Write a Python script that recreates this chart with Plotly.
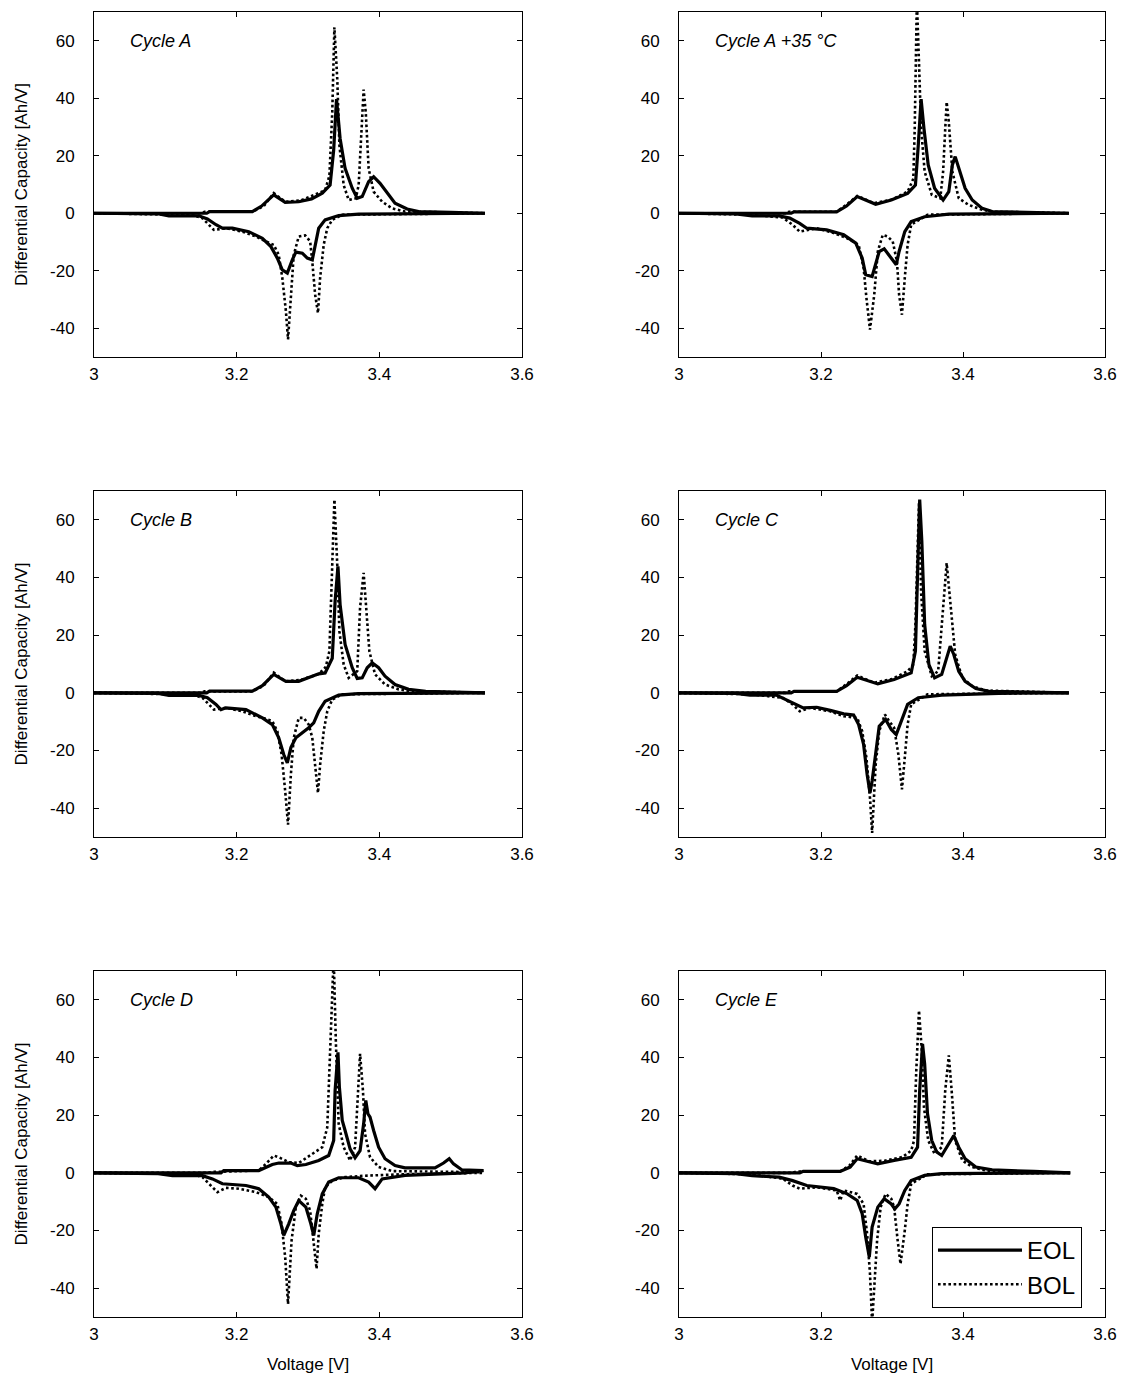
import plotly.graph_objects as go

# ---------------- data (Voltage [V], dQ/dV [Ah/V]) ----------------
PANEL_LABELS = ["Cycle A", "Cycle A +35 °C", "Cycle B", "Cycle C", "Cycle D", "Cycle E"]
SERIES_NAMES = ["EOL", "BOL"]
X_TICKS = [3, 3.2, 3.4, 3.6]
X_TICK_TEXT = ["3", "3.2", "3.4", "3.6"]
Y_TICKS = [-40, -20, 0, 20, 40, 60]
Y_TICK_TEXT = ["-40", "-20", "0", "20", "40", "60"]

# Cycle A
A_EOL_CHG_V = [3.00, 3.10, 3.158, 3.162, 3.222, 3.235, 3.252, 3.268, 3.287, 3.305, 3.320, 3.331, 3.336, 3.340, 3.345, 3.352, 3.362, 3.369, 3.376, 3.385, 3.392, 3.401, 3.411, 3.422, 3.439, 3.455, 3.50, 3.548]
A_EOL_CHG = [0, 0, 0, 0.6, 0.6, 2.5, 6.4, 3.8, 4.0, 5.0, 7.0, 9.8, 22, 39.7, 26, 15.6, 8.7, 5.2, 5.8, 11, 12.7, 10.4, 6.9, 3.5, 1.5, 0.6, 0.3, 0]
A_EOL_DIS_V = [3.548, 3.45, 3.371, 3.343, 3.324, 3.315, 3.310, 3.306, 3.299, 3.292, 3.283, 3.278, 3.271, 3.264, 3.257, 3.248, 3.236, 3.217, 3.194, 3.180, 3.171, 3.159, 3.147, 3.105, 3.091, 3.00]
A_EOL_DIS = [0, -0.2, -0.3, -0.8, -2.3, -5.2, -11, -16.2, -15.6, -13.9, -13.5, -16.2, -20.8, -19.7, -15.6, -11.6, -8.7, -6.4, -5.2, -5.2, -4.0, -2.0, -0.9, -0.9, -0.2, 0]
A_BOL_CHG_V = [3.00, 3.10, 3.150, 3.155, 3.222, 3.238, 3.252, 3.268, 3.290, 3.310, 3.324, 3.330, 3.334, 3.337, 3.341, 3.344, 3.350, 3.357, 3.367, 3.371, 3.375, 3.378, 3.381, 3.385, 3.392, 3.404, 3.418, 3.436, 3.50, 3.548]
A_BOL_CHG = [0, 0, 0, 0.5, 0.5, 2.5, 7.0, 4.0, 4.5, 6.5, 8, 13, 35, 64.7, 46.8, 23.7, 9.8, 4.6, 5.2, 9.8, 29.5, 43, 35, 15.6, 7.5, 4.0, 1.7, 0.6, 0.3, 0]
A_BOL_DIS_V = [3.548, 3.40, 3.348, 3.334, 3.327, 3.322, 3.317, 3.314, 3.310, 3.306, 3.303, 3.296, 3.287, 3.280, 3.276, 3.272, 3.269, 3.264, 3.259, 3.252, 3.241, 3.227, 3.208, 3.185, 3.168, 3.161, 3.152, 3.138, 3.00]
A_BOL_DIS = [0, -0.2, -0.5, -2.3, -5.2, -11, -22.5, -34.7, -28.3, -16.8, -9.8, -7.7, -8.1, -14.5, -28.3, -43.9, -34, -22.5, -14.5, -11, -9.8, -8.1, -6.4, -5.2, -5.8, -4.0, -1.7, -0.6, 0]

# Cycle A +35 °C
A35_EOL_CHG_V = [3.00, 3.10, 3.158, 3.162, 3.222, 3.236, 3.251, 3.277, 3.299, 3.322, 3.333, 3.337, 3.341, 3.345, 3.351, 3.360, 3.372, 3.380, 3.385, 3.389, 3.394, 3.403, 3.413, 3.427, 3.441, 3.50, 3.549]
A35_EOL_CHG = [0, 0, 0, 0.5, 0.5, 2.5, 5.8, 3.1, 4.6, 6.9, 9.8, 23.7, 39.7, 29.5, 16.8, 8.7, 4.6, 7.5, 16.8, 19.7, 15.6, 8.7, 4.6, 1.7, 0.6, 0.3, 0]
A35_EOL_DIS_V = [3.549, 3.45, 3.380, 3.346, 3.327, 3.318, 3.310, 3.306, 3.299, 3.289, 3.282, 3.277, 3.272, 3.263, 3.258, 3.249, 3.232, 3.208, 3.180, 3.170, 3.156, 3.141, 3.103, 3.080, 3.00]
A35_EOL_DIS = [0, -0.2, -0.3, -1.2, -2.9, -6.4, -13.3, -17.9, -15.6, -12.4, -13.3, -17.9, -22, -21.4, -15.6, -10.4, -7.5, -5.8, -5.2, -3.5, -1.7, -0.9, -0.9, -0.2, 0]
A35_BOL_CHG_V = [3.00, 3.10, 3.150, 3.155, 3.222, 3.236, 3.251, 3.275, 3.300, 3.322, 3.330, 3.332, 3.335, 3.338, 3.341, 3.346, 3.356, 3.368, 3.372, 3.375, 3.377, 3.380, 3.385, 3.394, 3.408, 3.427, 3.445, 3.50, 3.549]
A35_BOL_CHG = [0, 0, 0, 0.5, 0.5, 3.0, 6.0, 3.5, 4.8, 7.5, 12, 29.5, 74, 52.6, 29.5, 14.5, 6.4, 5.2, 14.5, 29.5, 38.7, 31.8, 14.5, 5.2, 2.9, 1.2, 0.5, 0.3, 0]
A35_BOL_DIS_V = [3.549, 3.40, 3.350, 3.327, 3.322, 3.318, 3.314, 3.310, 3.307, 3.301, 3.294, 3.287, 3.280, 3.275, 3.269, 3.264, 3.260, 3.253, 3.237, 3.218, 3.194, 3.170, 3.160, 3.146, 3.100, 3.00]
A35_BOL_DIS = [0, -0.2, -0.5, -4.0, -11, -22.5, -35.3, -28.3, -16.8, -9.8, -8.1, -7.5, -13.3, -28.3, -40.5, -29.5, -19, -11, -8.7, -6.9, -5.2, -6.4, -4.0, -1.5, -0.5, 0]

# Cycle B
B_EOL_CHG_V = [3.00, 3.10, 3.158, 3.162, 3.222, 3.236, 3.252, 3.269, 3.287, 3.315, 3.324, 3.334, 3.338, 3.342, 3.345, 3.352, 3.362, 3.369, 3.376, 3.383, 3.390, 3.399, 3.408, 3.422, 3.441, 3.465, 3.50, 3.548]
B_EOL_CHG = [0, 0, 0, 0.6, 0.6, 2.5, 6.4, 4.0, 4.0, 6.6, 6.9, 12, 31.8, 43.9, 30.6, 16.8, 8.7, 5.0, 5.2, 8.7, 10.4, 8.7, 5.8, 2.9, 1.2, 0.5, 0.3, 0]
B_EOL_DIS_V = [3.548, 3.45, 3.370, 3.343, 3.324, 3.315, 3.308, 3.301, 3.292, 3.283, 3.276, 3.271, 3.266, 3.259, 3.250, 3.236, 3.213, 3.185, 3.178, 3.171, 3.159, 3.147, 3.105, 3.090, 3.00]
B_EOL_DIS = [0, -0.2, -0.3, -0.8, -2.9, -6.4, -10.4, -12.1, -13.9, -15.6, -19, -24.3, -21.4, -15.6, -11, -8.7, -5.8, -5.2, -5.8, -4.0, -1.7, -0.9, -0.9, -0.2, 0]
B_BOL_CHG_V = [3.00, 3.10, 3.150, 3.155, 3.222, 3.238, 3.252, 3.268, 3.290, 3.315, 3.325, 3.330, 3.334, 3.337, 3.341, 3.344, 3.350, 3.357, 3.369, 3.373, 3.378, 3.381, 3.386, 3.394, 3.408, 3.427, 3.445, 3.50, 3.548]
B_BOL_CHG = [0, 0, 0, 0.5, 0.5, 2.5, 7.0, 4.0, 4.5, 6.5, 9, 14.5, 41, 67, 44.5, 21.4, 9.8, 5.2, 7.5, 29.5, 41.6, 31.8, 14.5, 6.4, 2.9, 1.2, 0.5, 0.3, 0]
B_BOL_DIS_V = [3.548, 3.40, 3.348, 3.334, 3.327, 3.322, 3.317, 3.314, 3.310, 3.306, 3.301, 3.294, 3.287, 3.280, 3.276, 3.272, 3.268, 3.263, 3.257, 3.250, 3.241, 3.227, 3.208, 3.185, 3.168, 3.161, 3.152, 3.138, 3.00]
B_BOL_DIS = [0, -0.2, -0.5, -2.3, -6.4, -13.3, -24.9, -34.7, -26, -15.6, -11, -8.7, -8.7, -15.6, -28.3, -45.7, -34, -21.4, -13.3, -9.8, -9.0, -8.1, -6.4, -5.2, -5.8, -4.0, -1.7, -0.6, 0]

# Cycle C
C_EOL_CHG_V = [3.00, 3.10, 3.158, 3.162, 3.222, 3.236, 3.251, 3.280, 3.303, 3.327, 3.333, 3.336, 3.339, 3.342, 3.346, 3.352, 3.360, 3.370, 3.377, 3.382, 3.387, 3.394, 3.403, 3.418, 3.437, 3.50, 3.549]
C_EOL_CHG = [0, 0, 0, 0.5, 0.5, 2.5, 5.4, 3.1, 4.6, 6.9, 14.5, 41, 67, 52.6, 23.7, 9.8, 5.2, 6.4, 12.1, 16.2, 13.3, 7.5, 4.0, 1.5, 0.5, 0.3, 0]
C_EOL_DIS_V = [3.549, 3.45, 3.370, 3.337, 3.322, 3.315, 3.306, 3.299, 3.291, 3.282, 3.277, 3.272, 3.269, 3.265, 3.260, 3.253, 3.246, 3.232, 3.213, 3.194, 3.175, 3.165, 3.151, 3.137, 3.100, 3.080, 3.00]
C_EOL_DIS = [0, -0.2, -0.8, -1.7, -4.0, -8.7, -14.5, -12.7, -9.2, -11.6, -21.4, -30.6, -34.7, -28.3, -17.9, -11, -7.7, -7.3, -6.1, -5.0, -5.2, -4.0, -2.3, -0.8, -0.8, -0.2, 0]
C_BOL_CHG_V = [3.00, 3.10, 3.150, 3.155, 3.222, 3.236, 3.251, 3.275, 3.300, 3.322, 3.330, 3.333, 3.338, 3.341, 3.346, 3.356, 3.365, 3.372, 3.377, 3.382, 3.389, 3.399, 3.413, 3.432, 3.50, 3.549]
C_BOL_CHG = [0, 0, 0, 0.5, 0.5, 3.0, 6.0, 3.5, 4.8, 7.5, 9.8, 23.7, 65.9, 35, 14.5, 5.8, 7.5, 29.5, 45, 31.8, 13.3, 5.2, 2.3, 0.8, 0.3, 0]
C_BOL_DIS_V = [3.549, 3.40, 3.350, 3.327, 3.322, 3.318, 3.314, 3.309, 3.303, 3.296, 3.290, 3.282, 3.277, 3.272, 3.269, 3.264, 3.258, 3.251, 3.232, 3.213, 3.184, 3.170, 3.160, 3.146, 3.100, 3.00]
C_BOL_DIS = [0, -0.2, -0.5, -4.0, -11, -22.5, -33.5, -21.4, -12.1, -9.8, -7.5, -13.3, -24.9, -48.6, -36.4, -22.5, -13.3, -8.7, -8.1, -6.4, -5.2, -6.4, -4.0, -1.7, -0.5, 0]

# Cycle D
D_EOL_CHG_V = [3.00, 3.10, 3.178, 3.182, 3.231, 3.250, 3.259, 3.276, 3.285, 3.297, 3.315, 3.329, 3.336, 3.338, 3.342, 3.344, 3.348, 3.352, 3.359, 3.366, 3.373, 3.378, 3.381, 3.384, 3.387, 3.392, 3.399, 3.408, 3.422, 3.436, 3.478, 3.490, 3.498, 3.504, 3.516, 3.546]
D_EOL_CHG = [0, 0, 0, 0.8, 0.8, 2.9, 3.4, 3.4, 2.5, 2.9, 4.3, 6.0, 11.2, 28.6, 41.8, 29.7, 18.2, 14.7, 8.3, 5.2, 7.7, 17, 25.1, 20.5, 19.3, 14.7, 8.9, 4.9, 2.5, 1.7, 1.7, 3.4, 4.9, 3.1, 1.0, 0.8]
D_EOL_DIS_V = [3.546, 3.520, 3.436, 3.418, 3.404, 3.394, 3.385, 3.371, 3.343, 3.329, 3.320, 3.313, 3.308, 3.304, 3.297, 3.287, 3.280, 3.273, 3.266, 3.262, 3.255, 3.245, 3.231, 3.213, 3.194, 3.180, 3.166, 3.152, 3.110, 3.090, 3.00]
D_EOL_DIS = [0.8, 0, -0.9, -1.5, -2.1, -5.5, -3.2, -1.7, -1.7, -3.2, -7.3, -14.2, -21.7, -17.7, -11.9, -9.6, -13.1, -17.7, -21.7, -17.7, -11.9, -8.4, -5.5, -4.4, -4.0, -3.8, -2.1, -1.0, -1.0, -0.3, 0]
D_BOL_CHG_V = [3.00, 3.10, 3.160, 3.165, 3.231, 3.241, 3.252, 3.259, 3.273, 3.287, 3.306, 3.320, 3.327, 3.330, 3.333, 3.336, 3.339, 3.343, 3.350, 3.359, 3.366, 3.370, 3.373, 3.377, 3.380, 3.387, 3.399, 3.418, 3.50, 3.544]
D_BOL_CHG = [0, 0, 0, 0.3, 0.8, 3.1, 6.0, 5.4, 3.7, 3.4, 6.6, 8.9, 15.8, 34.3, 57.5, 75, 45.9, 17, 8.9, 4.3, 8.9, 28.6, 41.3, 28.6, 13.5, 5.4, 2.0, 0.6, 0.3, 0.2]
D_BOL_DIS_V = [3.544, 3.431, 3.380, 3.352, 3.334, 3.324, 3.320, 3.315, 3.312, 3.308, 3.303, 3.297, 3.290, 3.283, 3.277, 3.272, 3.268, 3.263, 3.257, 3.245, 3.227, 3.203, 3.185, 3.173, 3.164, 3.152, 3.138, 3.00]
D_BOL_DIS = [0, -0.5, -1.0, -1.5, -2.7, -5.0, -10.8, -21.2, -33.3, -23.4, -13.1, -9.0, -7.9, -11.9, -23.4, -45.5, -29.2, -17.7, -10.8, -8.4, -6.7, -5.5, -5.2, -6.7, -4.4, -1.5, -0.5, 0]

# Cycle E
E_EOL_CHG_V = [3.00, 3.10, 3.170, 3.175, 3.227, 3.241, 3.251, 3.265, 3.280, 3.303, 3.327, 3.336, 3.339, 3.343, 3.346, 3.350, 3.356, 3.363, 3.370, 3.380, 3.387, 3.394, 3.403, 3.418, 3.441, 3.50, 3.551]
E_EOL_CHG = [0, 0, 0, 0.5, 0.5, 2.0, 4.9, 4.0, 3.1, 4.3, 5.4, 8.9, 28.6, 44.7, 37.8, 20.5, 11.2, 7.2, 6.0, 10.1, 12.9, 8.9, 4.9, 2.0, 1.0, 0.5, 0]
E_EOL_DIS_V = [3.551, 3.45, 3.370, 3.346, 3.327, 3.318, 3.310, 3.304, 3.299, 3.289, 3.280, 3.272, 3.268, 3.263, 3.258, 3.251, 3.237, 3.218, 3.199, 3.180, 3.160, 3.141, 3.103, 3.080, 3.00]
E_EOL_DIS = [0, -0.2, -0.3, -0.9, -2.7, -6.1, -10.8, -12.5, -10.8, -9.0, -11.9, -18.8, -29.2, -22.3, -14.2, -9.6, -7.3, -5.5, -5.0, -4.4, -2.7, -1.5, -1.0, -0.3, 0]
E_BOL_CHG_V = [3.00, 3.10, 3.160, 3.165, 3.227, 3.240, 3.251, 3.268, 3.290, 3.315, 3.327, 3.331, 3.334, 3.338, 3.342, 3.345, 3.351, 3.360, 3.370, 3.375, 3.380, 3.384, 3.389, 3.399, 3.413, 3.432, 3.50, 3.551]
E_BOL_CHG = [0, 0, 0, 0.4, 0.5, 2.5, 6.0, 4.0, 4.2, 5.5, 7.7, 11.2, 34.3, 56.3, 42.4, 22.8, 11.2, 6.6, 8.9, 28.6, 40.7, 28.6, 11.2, 4.3, 2.0, 0.8, 0.3, 0]
E_BOL_DIS_V = [3.551, 3.40, 3.350, 3.327, 3.322, 3.318, 3.312, 3.308, 3.303, 3.299, 3.291, 3.284, 3.279, 3.272, 3.269, 3.265, 3.260, 3.251, 3.232, 3.227, 3.222, 3.194, 3.170, 3.160, 3.146, 3.100, 3.00]
E_BOL_DIS = [0, -0.2, -0.5, -3.8, -10.8, -20, -31.6, -23.5, -11.9, -9.0, -7.3, -11.9, -23.5, -52, -35, -21.2, -10.8, -7.3, -6.1, -9.6, -6.1, -5.0, -5.5, -4.4, -2.0, -0.5, 0]

PANELS = [
    (A_EOL_CHG_V, A_EOL_CHG, A_EOL_DIS_V, A_EOL_DIS, A_BOL_CHG_V, A_BOL_CHG, A_BOL_DIS_V, A_BOL_DIS),
    (A35_EOL_CHG_V, A35_EOL_CHG, A35_EOL_DIS_V, A35_EOL_DIS, A35_BOL_CHG_V, A35_BOL_CHG, A35_BOL_DIS_V, A35_BOL_DIS),
    (B_EOL_CHG_V, B_EOL_CHG, B_EOL_DIS_V, B_EOL_DIS, B_BOL_CHG_V, B_BOL_CHG, B_BOL_DIS_V, B_BOL_DIS),
    (C_EOL_CHG_V, C_EOL_CHG, C_EOL_DIS_V, C_EOL_DIS, C_BOL_CHG_V, C_BOL_CHG, C_BOL_DIS_V, C_BOL_DIS),
    (D_EOL_CHG_V, D_EOL_CHG, D_EOL_DIS_V, D_EOL_DIS, D_BOL_CHG_V, D_BOL_CHG, D_BOL_DIS_V, D_BOL_DIS),
    (E_EOL_CHG_V, E_EOL_CHG, E_EOL_DIS_V, E_EOL_DIS, E_BOL_CHG_V, E_BOL_CHG, E_BOL_DIS_V, E_BOL_DIS),
]

# ---------------- figure ----------------
PAGE_PAD = 8                      # default body margin of the html page
W, H = 1129 - PAGE_PAD, 1384 - PAGE_PAD
FONT = "Arial, 'Liberation Sans', Helvetica, sans-serif"

# panel frames in page pixels (left, right, top, bottom)
COL_PX = [(94, 522), (679, 1105)]
ROW_PX = [(12, 357), (491, 837), (971, 1317)]


def fx(px):
    return (px - PAGE_PAD) / W


def fy(py):
    return 1 - (py - PAGE_PAD) / H


fig = go.Figure()

for i, p in enumerate(PANELS):
    r, c = divmod(i, 2)
    n = i + 1
    xa = "x" if n == 1 else f"x{n}"
    ya = "y" if n == 1 else f"y{n}"
    ev_c, eq_c, ev_d, eq_d, bv_c, bq_c, bv_d, bq_d = p
    show = (i == len(PANELS) - 1)
    fig.add_trace(go.Scatter(
        x=list(ev_c) + [None] + list(ev_d), y=list(eq_c) + [None] + list(eq_d),
        mode="lines", name=SERIES_NAMES[0], showlegend=show, legendrank=1,
        line=dict(color="black", width=3.2), xaxis=xa, yaxis=ya, connectgaps=False))
    fig.add_trace(go.Scatter(
        x=list(bv_c) + [None] + list(bv_d), y=list(bq_c) + [None] + list(bq_d),
        mode="lines", name=SERIES_NAMES[1], showlegend=show, legendrank=2,
        line=dict(color="black", width=2.6, dash="2.6px,2.6px"), xaxis=xa, yaxis=ya, connectgaps=False))

    xl, xr = COL_PX[c]
    yt, yb = ROW_PX[r]
    xkey = "xaxis" if n == 1 else f"xaxis{n}"
    ykey = "yaxis" if n == 1 else f"yaxis{n}"
    common = dict(showline=True, linecolor="black", linewidth=1, mirror="ticks",
                  ticks="inside", ticklen=5, tickwidth=1, tickcolor="black",
                  showgrid=False, zeroline=False, automargin=False,
                  tickfont=dict(family=FONT, size=17, color="black"))
    fig.update_layout({
        xkey: dict(common, domain=[fx(xl), fx(xr)], range=[3, 3.6], tickvals=X_TICKS,
                   ticktext=X_TICK_TEXT, anchor=ya, ticklabelstandoff=2,
                   title=dict(text="Voltage [V]" if r == 2 else "",
                              font=dict(family=FONT, size=17, color="black"), standoff=14)),
        ykey: dict(common, domain=[fy(yb), fy(yt)], range=[-50, 70], tickvals=Y_TICKS,
                   ticktext=Y_TICK_TEXT, anchor=xa, ticklabelstandoff=15,
                   title=dict(text="Differential Capacity [Ah/V]" if c == 0 else "",
                              font=dict(family=FONT, size=17, color="black"), standoff=18)),
    })
    fig.add_annotation(x=3.048, y=60, xref=xa, yref=ya, text=f"<i>{PANEL_LABELS[i]}</i>",
                       showarrow=False, xanchor="left", yanchor="middle",
                       font=dict(family=FONT, size=18, color="black"))

fig.update_layout(
    width=W, height=H,
    margin=dict(l=0, r=0, t=0, b=0),
    paper_bgcolor="white", plot_bgcolor="white",
    font=dict(family=FONT, size=17, color="black"),
    showlegend=True,
    legend=dict(x=fx(932), y=fy(1227), xanchor="left", yanchor="top",
                bgcolor="white", bordercolor="black", borderwidth=1,
                font=dict(family=FONT, size=24, color="black"),
                itemwidth=84, tracegroupgap=2, traceorder="normal"),
)

fig.write_html("out.html")
